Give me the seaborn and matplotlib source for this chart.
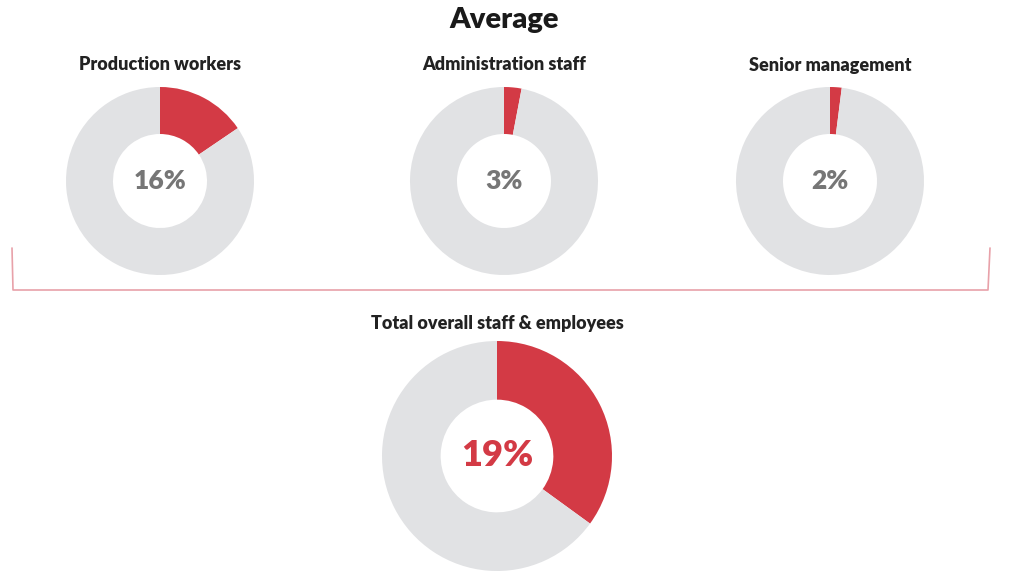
import matplotlib
matplotlib.use("Agg")
import matplotlib.pyplot as plt
import seaborn as sns

# values
groups = ["Production workers", "Administration staff", "Senior management"]
group_labels = ["16%", "3%", "2%"]
group_share = [0.155, 0.03, 0.02]

total_name = "Total overall staff & employees"
total_label = "19%"
total_share = 0.35  # wedge as drawn in the picture

RED = "#d33a45"
GREY = "#e1e2e4"
W, H = 1024, 587

sns.set_theme(style="white")
plt.rcParams["font.family"] = ["Lato", "DejaVu Sans"]

fig = plt.figure(figsize=(W / 100, H / 100), dpi=100)

# overlay axes in pixel coordinates for the title, captions and bracket
bg = fig.add_axes([0, 0, 1, 1])
bg.set_xlim(0, W)
bg.set_ylim(H, 0)
bg.axis("off")


def donut(cx, cy, r, share, label, label_color, label_size, ring=0.5):
    ax = fig.add_axes([(cx - r) / W, (H - cy - r) / H, 2 * r / W, 2 * r / H])
    ax.pie([share, 1 - share], colors=[RED, GREY], startangle=90,
           counterclock=False, radius=1,
           wedgeprops=dict(width=ring, edgecolor="none"))
    ax.set_xlim(-1, 1)
    ax.set_ylim(-1, 1)
    ax.set_aspect("equal")
    ax.text(0, 0, label, ha="center", va="center", fontsize=label_size,
            fontweight="heavy", color=label_color)
    ax.axis("off")
    return ax


centers = [160, 504, 830]
for name, lab, share, cx in zip(groups, group_labels, group_share, centers):
    donut(cx, 181, 94, share, lab, "#767676", 19)
    bg.text(cx, 65, name, ha="center", va="center", fontsize=13,
            fontweight="heavy", color="#222222")

donut(497, 456, 115, total_share, total_label, RED, 26, ring=0.51)
bg.text(497, 323, total_name, ha="center", va="center", fontsize=13,
        fontweight="heavy", color="#222222")

bg.text(504, 20, "Average", ha="center", va="center", fontsize=21,
        fontweight="heavy", color="#1a1a1a")

# bracket joining the three group donuts
bg.plot([12, 13, 988, 990], [248, 290, 290, 248], color="#e8a1a9", lw=1.2)

fig.savefig("out.png", dpi=100)
